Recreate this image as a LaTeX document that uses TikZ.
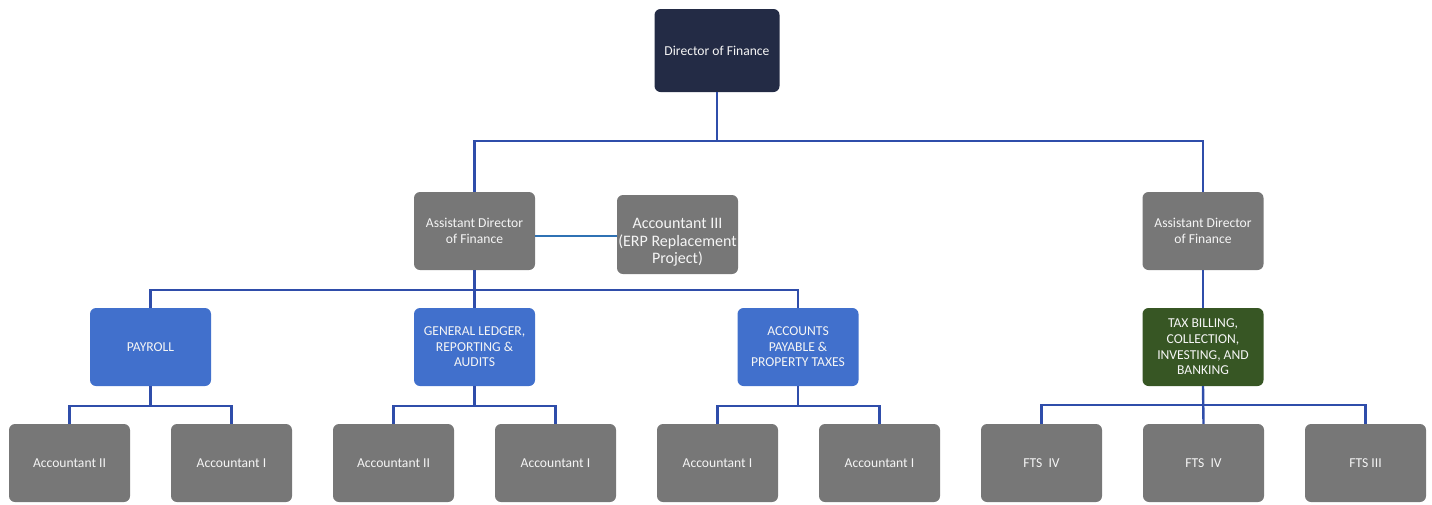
\documentclass[tikz,border=0pt]{standalone}
\usepackage{fontspec}
\setmainfont{Carlito}
\begin{document}
\begin{tikzpicture}[x=1pt,y=-1pt,
  box/.style={draw=none,rounded corners=6pt,minimum width=121pt,minimum height=78pt,
    inner sep=1pt,align=center,text=white!92!gray,font=\fontsize{13.6}{15.6}\selectfont},
  navybox/.style={box,fill=navy},
  graybox/.style={box,fill=boxgray},
  bluebox/.style={box,fill=boxblue},
  greenbox/.style={box,fill=boxgreen},
  boxtext/.style={inner sep=0pt,align=center,text=white!92!gray,font=\fontsize{16}{17.5}\selectfont},
  conn/.style={draw=linkblue,line width=2.4pt},
  sideconn/.style={draw=sideblue,line width=2.4pt}]
\definecolor{navy}{HTML}{232B45}
\definecolor{boxgray}{HTML}{777777}
\definecolor{boxblue}{HTML}{4170CC}
\definecolor{boxgreen}{HTML}{375624}
\definecolor{linkblue}{HTML}{2F4DAA}
\definecolor{sideblue}{HTML}{2F72B4}
\useasboundingbox (0,0) rectangle (1432,504);

% top level
\node[navybox,minimum width=125pt,minimum height=83pt] (dir) at (717,50.5) {Director of Finance};

% assistant directors
\node[graybox] (adl) at (474.5,231) {Assistant Director\\of Finance};
\node[graybox] (adr) at (1203,231) {Assistant Director\\of Finance};
\node[graybox,minimum height=79pt] (acc3) at (677.5,234.5) {};
\node[boxtext] (acc3txt) at ([yshift=-8pt]acc3.center) {Accountant III\\(ERP Replacement\\Project)};

% divisions
\node[bluebox] (pay) at (150.5,347) {PAYROLL};
\node[bluebox] (gl) at (474.5,347) {GENERAL LEDGER,\\REPORTING \&\\AUDITS};
\node[bluebox] (ap) at (798,347) {ACCOUNTS\\PAYABLE \&\\PROPERTY TAXES};
\node[greenbox] (tax) at (1203,347) {TAX BILLING,\\COLLECTION,\\INVESTING, AND\\BANKING};

% staff
\node[graybox] (p1) at (69.5,463) {Accountant II};
\node[graybox] (p2) at (231.5,463) {Accountant I};
\node[graybox] (g1) at (393.5,463) {Accountant II};
\node[graybox] (g2) at (555.5,463) {Accountant I};
\node[graybox] (a1) at (717.5,463) {Accountant I};
\node[graybox] (a2) at (879.5,463) {Accountant I};
\node[graybox] (t1) at (1041.5,463) {FTS \ IV};
\node[graybox] (t2) at (1203.5,463) {FTS \ IV};
\node[graybox] (t3) at (1365.5,463) {FTS III};

% connectors
\draw[conn] (dir.south) -- ++(0,49) -| (adl.north);
\draw[conn] (dir.south) -- ++(0,49) -| (adr.north);
\draw[sideconn] (adl.east |- 0,236) -- (acc3.west |- 0,236);

\draw[conn] (adl.south) -- ++(0,20) -| (pay.north);
\draw[conn] (adl.south) -- ++(0,20) -| (gl.north);
\draw[conn] (adl.south) -- ++(0,20) -| (ap.north);
\draw[conn] (adr.south) -- (tax.north);

\foreach \up/\a/\b in {pay/p1/p2, gl/g1/g2, ap/a1/a2}{
  \draw[conn] (\up.south) -- ++(0,20) -| (\a.north);
  \draw[conn] (\up.south) -- ++(0,20) -| (\b.north);
}
\draw[conn] (tax.south) -- ++(0,19) -| (t1.north);
\draw[conn] (tax.south) -- (t2.north);
\draw[conn] (tax.south) -- ++(0,19) -| (t3.north);
\end{tikzpicture}
\end{document}
